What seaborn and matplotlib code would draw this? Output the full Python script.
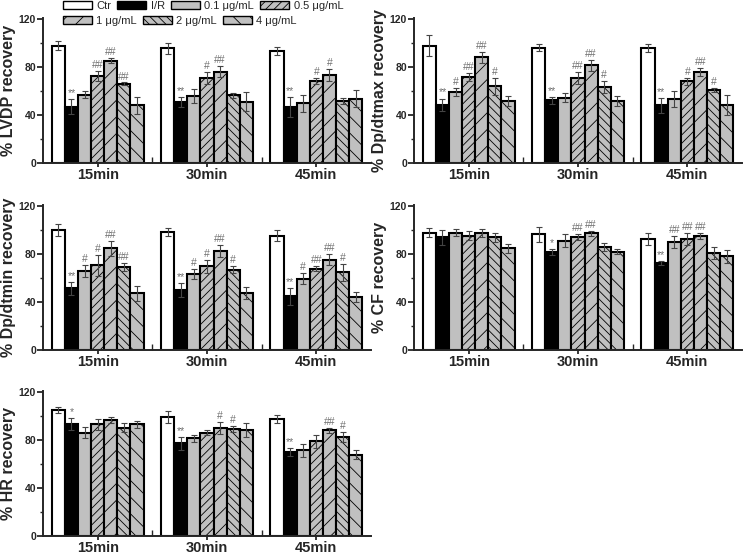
import numpy as np
import pandas as pd
import matplotlib.pyplot as plt
import seaborn as sns
from matplotlib.patches import Patch
from matplotlib.ticker import FixedLocator

times = ["15min", "30min", "45min"]
groups = ["Ctr", "I/R", "0.1 μg/mL", "0.5 μg/mL", "1 μg/mL", "2 μg/mL", "4 μg/mL"]

# values per time point (15, 30, 45 min), 7 groups each
lvdp_mean = [[98, 47, 57, 72.6, 85.5, 66.2, 48], [95.7, 50.8, 55.7, 70.6, 76.1, 56.6, 51.3], [93.5, 46.9, 49.7, 68.1, 73.4, 51.6, 53.8]]
lvdp_err = [[4, 6, 3, 4, 2, 1, 7], [4.7, 4, 6, 5, 4.5, 2, 8], [3.6, 8.5, 7, 2.5, 4.7, 2.5, 7]]
lvdp_sig = [["", "**", "", "##", "##", "##", ""], ["", "**", "", "#", "##", "", ""], ["", "**", "", "#", "#", "", ""]]

dpmax_mean = [[97.9, 48.8, 59.3, 72, 88.3, 64, 51.9], [96.3, 52.4, 54.6, 70.9, 81.4, 63.7, 51.9], [96, 48, 53.5, 68.1, 75.9, 60.7, 48.3]]
dpmax_err = [[8.5, 5, 3.6, 3.3, 4.7, 7, 4.4], [2.7, 2.8, 3.9, 5.2, 4.7, 5, 4.1], [3, 6.6, 7, 3, 3, 1.7, 8.5]]
dpmax_sig = [["", "**", "#", "##", "##", "#", ""], ["", "**", "", "##", "##", "#", ""], ["", "**", "", "#", "##", "#", ""]]

dpmin_mean = [[100, 51.4, 65.9, 70.6, 84.9, 69.2, 47.3], [98.4, 50, 63.7, 69.8, 82.4, 67, 47.5], [95.3, 45, 59.6, 67.9, 75.5, 64.8, 44.2]]
dpmin_err = [[5, 5.5, 5, 8.8, 6.3, 3.3, 6.5], [3.3, 5.8, 4.2, 5.7, 5.2, 2.8, 4.7], [4.7, 7.1, 4.7, 2.2, 4.7, 7.1, 3.8]]
dpmin_sig = [["", "**", "#", "#", "##", "##", ""], ["", "**", "#", "#", "##", "#", ""], ["", "**", "#", "##", "##", "#", ""]]

cf_mean = [[98, 93.9, 98, 95.3, 98, 93.9, 84.9], [96.4, 81.6, 91.2, 94.2, 97.3, 86, 82.1], [92.6, 72.5, 90.4, 92.6, 95, 81, 78.3]]
cf_err = [[3.6, 6.6, 3, 3.8, 3.3, 3.6, 3.6], [6, 2.5, 5.5, 2.7, 1.9, 3.6, 1.9], [5, 1.9, 5, 5, 2.5, 5.3, 5.3]]
cf_sig = [["", "", "", "", "", "", ""], ["", "*", "", "##", "##", "", ""], ["", "**", "##", "##", "##", "", ""]]

hr_mean = [[105.1, 93.5, 86.3, 93.2, 96.8, 90.5, 93.2], [99.6, 77.5, 81.4, 86.3, 90.5, 89.4, 88.8], [97.9, 69.8, 71.4, 79.2, 88.3, 82.5, 67.9]]
hr_err = [[2.8, 5.2, 4.4, 4.7, 2.8, 3.6, 2.8], [5, 5.5, 3.3, 1.9, 5, 2.8, 5.8], [3.3, 3.3, 5.3, 5.5, 2.2, 4.1, 3.8]]
hr_sig = [["", "*", "", "", "", "", ""], ["", "**", "", "", "#", "#", ""], ["", "**", "", "", "##", "#", ""]]

colors = {"Ctr": "white", "I/R": "black", "0.1 μg/mL": "#c0c0c0", "0.5 μg/mL": "#c0c0c0",
          "1 μg/mL": "#c0c0c0", "2 μg/mL": "#c0c0c0", "4 μg/mL": "#c0c0c0"}
hatches = ["", "", "", "////", "//", "\\\\\\\\", "\\\\"]

sns.set_style("ticks")
plt.rcParams["font.family"] = ["Liberation Sans", "DejaVu Sans"]
plt.rcParams["hatch.linewidth"] = 0.6

fig = plt.figure(figsize=(7.47, 5.56), dpi=100)

panels = [
    ("% LVDP recovery", lvdp_mean, lvdp_err, lvdp_sig, [43, 18]),
    ("% Dp/dtmax recovery", dpmax_mean, dpmax_err, dpmax_sig, [414, 18]),
    ("% Dp/dtmin recovery", dpmin_mean, dpmin_err, dpmin_sig, [43, 205]),
    ("% CF recovery", cf_mean, cf_err, cf_sig, [414, 205]),
    ("% HR recovery", hr_mean, hr_err, hr_sig, [43, 391]),
]

W, H = 747, 556
for label, mean, err, sig, (px, py) in panels:
    ax = fig.add_axes([px / W, 1 - (py + 145) / H, 328 / W, 145 / H])
    df = pd.DataFrame([(t, g, mean[i][j]) for i, t in enumerate(times) for j, g in enumerate(groups)],
                      columns=["time", "group", "value"])
    sns.barplot(data=df, x="time", y="value", hue="group", hue_order=groups, palette=colors,
                edgecolor="black", linewidth=1.5, width=0.84, legend=False, ax=ax)
    bar_sets = list(ax.containers)
    for j, cont in enumerate(bar_sets):
        for i, bar in enumerate(cont):
            bar.set_hatch(hatches[j])
            cx = bar.get_x() + bar.get_width() / 2
            h = bar.get_height()
            ax.errorbar(cx, h, yerr=err[i][j], color="#444444", lw=0.8, capsize=2, capthick=0.8, zorder=5)
            if sig[i][j]:
                ax.text(cx, h + err[i][j] + 0.8, sig[i][j], ha="center", va="bottom", fontsize=7.5, color="#707070")
    ax.set_ylim(0, 121)
    ax.set_xlim(-0.5, 2.5)
    ax.set_yticks([0, 40, 80, 120])
    ax.yaxis.set_minor_locator(FixedLocator([20, 60, 100]))
    ax.xaxis.set_minor_locator(FixedLocator([0.5, 1.5]))
    ax.tick_params(axis="y", labelsize=7.5, width=1.3, length=4, pad=1)
    ax.tick_params(axis="y", which="minor", width=1.0, length=2.5)
    ax.tick_params(axis="x", labelsize=10.5, width=1.3, length=3, pad=0.5)
    ax.tick_params(axis="x", which="minor", direction="in", width=1.0, length=4)
    for t in ax.get_xticklabels() + ax.get_yticklabels():
        t.set_fontweight("bold")
    ax.set_xlabel("")
    ax.set_ylabel(label, fontsize=11.5, fontweight="bold", labelpad=2)
    for s in ["left", "bottom"]:
        ax.spines[s].set_linewidth(1.4)
    sns.despine(ax=ax)

handles = [Patch(facecolor=colors[g], edgecolor="black", hatch=hatches[k], linewidth=1.0) for k, g in enumerate(groups)]
leg_kw = dict(frameon=False, fontsize=8, handlelength=2.6, handleheight=0.65, handletextpad=0.4,
              columnspacing=0.55, borderpad=0, borderaxespad=0)
fig.legend(handles[:4], groups[:4], ncol=4, loc="center left", bbox_to_anchor=(63 / W, 1 - 6 / H), **leg_kw)
fig.legend(handles[4:], groups[4:], ncol=3, loc="center left", bbox_to_anchor=(63 / W, 1 - 21 / H), **leg_kw)

fig.savefig("out.png", dpi=100)
